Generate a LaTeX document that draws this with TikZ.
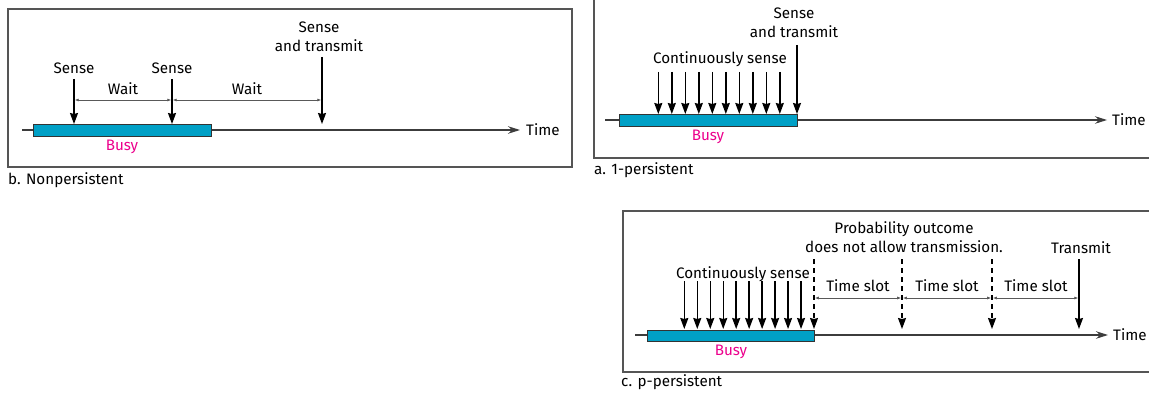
\documentclass[tikz,border=0pt]{standalone}
\usepackage{fontspec}
\setmainfont{Fira Sans}
\usetikzlibrary{arrows.meta}
\definecolor{busyblue}{RGB}{0,160,198}
\definecolor{busypink}{RGB}{236,0,140}
\definecolor{framegray}{RGB}{85,85,85}
\definecolor{linegray}{RGB}{60,60,60}
\tikzset{
  lbl/.style={inner sep=0pt, font=\fontsize{15.2}{19}\selectfont, align=center},
  caption/.style={lbl, anchor=west},
  framebox/.style={draw=framegray, line width=1.4pt},
  timeline/.style={draw=linegray, line width=1.1pt, -{Stealth[length=12pt,width=7.5pt]}},
  busybar/.style={draw=black!80, fill=busyblue, line width=1pt, inner sep=0pt},
  busylbl/.style={lbl, text=busypink},
  sensearrow/.style={draw=black, line width=1.4pt, -{Stealth[length=11pt,width=8pt,inset=1pt]}},
  dasharrow/.style={sensearrow, line width=1.2pt, dash pattern=on 5pt off 4pt},
  intervalarrow/.style={draw=black!65, line width=0.7pt, {Latex[length=4pt,width=3pt]}-{Latex[length=4pt,width=3pt]}},
}
\begin{document}
\begin{tikzpicture}[x=1pt,y=-1pt]
\useasboundingbox (0,0) rectangle (1149,396);

% ---------------- b. Nonpersistent ----------------
\draw[framebox] (8,9) rectangle (572,167);
\coordinate (bTL) at (22,130);
\coordinate (bTR) at (520,130);
\draw[timeline] (bTL) -- (bTR);
\node[lbl, anchor=west] (bTime) at (526,130) {Time};
\node[busybar, minimum width=178pt, minimum height=12pt] (bBusy) at (122,130) {};
\node[busylbl] (bBusyL) at (122,147) {Busy};
\node[lbl] (bS1L) at (74,68) {Sense};
\node[lbl] (bS2L) at (172,68) {Sense};
\node[lbl] (bSTL) at (319,36.5) {Sense\\and transmit};
\coordinate (bS1a) at (74,79);  \coordinate (bS1b) at (74,124);
\coordinate (bS2a) at (172,79); \coordinate (bS2b) at (172,124);
\coordinate (bSTa) at (322,57); \coordinate (bSTb) at (322,124);
\draw[sensearrow] (bS1a) -- (bS1b);
\draw[sensearrow] (bS2a) -- (bS2b);
\draw[sensearrow] (bSTa) -- (bSTb);
\coordinate (bW1a) at (74.7,100);  \coordinate (bW1b) at (171.3,100);
\coordinate (bW2a) at (172.7,100); \coordinate (bW2b) at (321.3,100);
\draw[intervalarrow] (bW1a) -- (bW1b);
\draw[intervalarrow] (bW2a) -- (bW2b);
\node[lbl] (bWait1) at (123,89) {Wait};
\node[lbl] (bWait2) at (247,89) {Wait};
\node[caption] (bCap) at (8,180) {b. Nonpersistent};

% ---------------- a. 1-persistent ----------------
\coordinate (aF1) at (594,0);
\coordinate (aF2) at (594,158);
\coordinate (aF3) at (1149,158);
\draw[framebox] (aF1) -- (aF2) -- (aF3);
\coordinate (aTL) at (605,120);
\coordinate (aTR) at (1107,120);
\draw[timeline] (aTL) -- (aTR);
\node[lbl, anchor=west] (aTime) at (1112,120) {Time};
\node[busybar, minimum width=178pt, minimum height=12pt] (aBusy) at (708,120) {};
\node[busylbl] (aBusyL) at (708,137) {Busy};
\node[lbl] (aCS) at (720,59) {Continuously sense};
\foreach \i in {0,...,9} {
  \coordinate (aA\i) at ({658.3+13.5*\i},72);
  \coordinate (aB\i) at ({658.3+13.5*\i},114);
  \draw[sensearrow] (aA\i) -- (aB\i);
}
\coordinate (aSTa) at (797,45); \coordinate (aSTb) at (797,114);
\draw[sensearrow] (aSTa) -- (aSTb);
\node[lbl] (aSTL) at (794,22.5) {Sense\\and transmit};
\node[caption] (aCap) at (594,170) {a. 1-persistent};

% ---------------- c. p-persistent ----------------
\coordinate (cF1) at (1149,211);
\coordinate (cF2) at (623,211);
\coordinate (cF3) at (623,372);
\coordinate (cF4) at (1149,372);
\draw[framebox] (cF1) -- (cF2) -- (cF3) -- (cF4);
\coordinate (cTL) at (635,335);
\coordinate (cTR) at (1108,335);
\draw[timeline] (cTL) -- (cTR);
\node[lbl, anchor=west] (cTime) at (1113,335) {Time};
\node[busybar, minimum width=167pt, minimum height=11pt] (cBusy) at (730.5,335.5) {};
\node[busylbl] (cBusyL) at (731,352) {Busy};
\node[lbl] (cCS) at (743,274) {Continuously sense};
\foreach \i in {0,...,9} {
  \coordinate (cA\i) at ({684.3+12.97*\i},281);
  \coordinate (cB\i) at ({684.3+12.97*\i},329);
  \draw[sensearrow] (cA\i) -- (cB\i);
}
\coordinate (cD1a) at (814,259); \coordinate (cD1b) at (814,329);
\coordinate (cD2a) at (902,259); \coordinate (cD2b) at (902,329);
\coordinate (cD3a) at (992,259); \coordinate (cD3b) at (992,329);
\draw[dasharrow] (cD1a) -- (cD1b);
\draw[dasharrow] (cD2a) -- (cD2b);
\draw[dasharrow] (cD3a) -- (cD3b);
\coordinate (cTa) at (1079,259); \coordinate (cTb) at (1079,329);
\draw[sensearrow] (cTa) -- (cTb);
\node[lbl] (cTrans) at (1081,248) {Transmit};
\node[lbl] (cProb) at (904,237.5) {Probability outcome\\does not allow transmission.};
\coordinate (cS1a) at (814.8,298); \coordinate (cS1b) at (901.2,298);
\coordinate (cS2a) at (902.8,298); \coordinate (cS2b) at (991.2,298);
\coordinate (cS3a) at (992.8,298); \coordinate (cS3b) at (1078.3,298);
\draw[intervalarrow] (cS1a) -- (cS1b);
\draw[intervalarrow] (cS2a) -- (cS2b);
\draw[intervalarrow] (cS3a) -- (cS3b);
\node[lbl] (cSlot1) at (858,286) {Time slot};
\node[lbl] (cSlot2) at (947,286) {Time slot};
\node[lbl] (cSlot3) at (1036,286) {Time slot};
\node[caption] (cCap) at (621,382) {c. p-persistent};
\end{tikzpicture}
\end{document}
